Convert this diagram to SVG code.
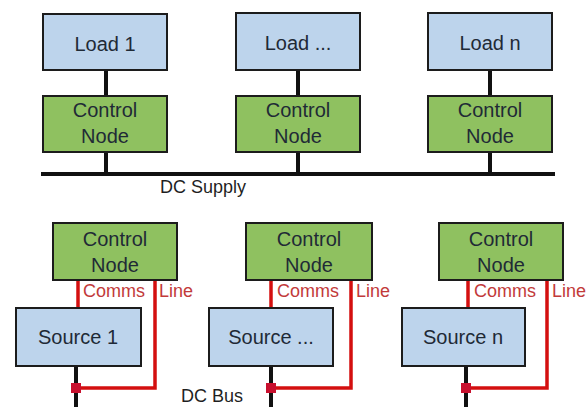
<svg xmlns="http://www.w3.org/2000/svg" width="586" height="407" viewBox="0 0 586 407">
  <style>
    .load { fill: #bdd4ec; stroke: #1c1c1c; stroke-width: 2; }
    .ctrl { fill: #8fc160; stroke: #1c1c1c; stroke-width: 2; }
    .lbl { font-family: "Liberation Sans", Arial, sans-serif; font-size: 20px; fill: #1f2a36; text-anchor: middle; }
    .bus { font-family: "Liberation Sans", Arial, sans-serif; font-size: 18px; fill: #1f1f1f; }
    .comms { font-family: "Liberation Sans", Arial, sans-serif; font-size: 18px; fill: #c23a3a; }
    .wire { stroke: #111; stroke-width: 4; fill: none; }
    .red { stroke: #d40f0f; stroke-width: 3.5; fill: none; }
    .junction { fill: #c8102e; }
  </style>
  <rect width="586" height="407" fill="#ffffff"/>

  <!-- power and communication wiring -->
  <g id="connectors">
    <!-- DC supply rail and load drops -->
    <line class="wire" x1="41" y1="174" x2="555" y2="174"/>
    <line class="wire" x1="106" y1="70" x2="106" y2="96"/>
    <line class="wire" x1="106" y1="152" x2="106" y2="174"/>
    <line class="wire" x1="298" y1="70" x2="298" y2="96"/>
    <line class="wire" x1="298" y1="152" x2="298" y2="174"/>
    <line class="wire" x1="490" y1="70" x2="490" y2="96"/>
    <line class="wire" x1="490" y1="152" x2="490" y2="174"/>

    <!-- source drops to DC bus -->
    <line class="wire" x1="76" y1="366" x2="76" y2="407"/>
    <line class="wire" x1="271" y1="366" x2="271" y2="407"/>
    <line class="wire" x1="466" y1="366" x2="466" y2="407"/>

    <!-- comms lines -->
    <line class="red" x1="78" y1="280" x2="78" y2="308"/>
    <polyline class="red" points="155,280 155,388 76,388"/>
    <line class="red" x1="271" y1="280" x2="271" y2="308"/>
    <polyline class="red" points="351,280 351,388 271,388"/>
    <line class="red" x1="468" y1="280" x2="468" y2="308"/>
    <polyline class="red" points="547,280 547,388 466,388"/>

    <rect class="junction" x="71" y="383" width="10" height="10"/>
    <rect class="junction" x="266" y="383" width="10" height="10"/>
    <rect class="junction" x="461" y="383" width="10" height="10"/>
  </g>

  <!-- loads -->
  <g id="load-1"><rect class="load" x="43" y="14" width="124" height="56"/><text class="lbl" x="105" y="51">Load 1</text></g>
  <g id="load-mid"><rect class="load" x="236" y="13" width="124" height="57"/><text class="lbl" x="298" y="50">Load ...</text></g>
  <g id="load-n"><rect class="load" x="428" y="13" width="124" height="57"/><text class="lbl" x="490" y="50">Load n</text></g>

  <!-- load control nodes -->
  <g id="load-ctrl-1"><rect class="ctrl" x="43" y="96" width="124" height="56"/><text class="lbl" x="105" y="117">Control</text><text class="lbl" x="105" y="143">Node</text></g>
  <g id="load-ctrl-mid"><rect class="ctrl" x="236" y="96" width="124" height="56"/><text class="lbl" x="298" y="117">Control</text><text class="lbl" x="298" y="143">Node</text></g>
  <g id="load-ctrl-n"><rect class="ctrl" x="428" y="96" width="124" height="56"/><text class="lbl" x="490" y="117">Control</text><text class="lbl" x="490" y="143">Node</text></g>

  <!-- source control nodes -->
  <g id="src-ctrl-1"><rect class="ctrl" x="53" y="223" width="124" height="57"/><text class="lbl" x="115" y="246">Control</text><text class="lbl" x="115" y="272">Node</text></g>
  <g id="src-ctrl-mid"><rect class="ctrl" x="246" y="223" width="126" height="57"/><text class="lbl" x="309" y="246">Control</text><text class="lbl" x="309" y="272">Node</text></g>
  <g id="src-ctrl-n"><rect class="ctrl" x="439" y="223" width="124" height="57"/><text class="lbl" x="501" y="246">Control</text><text class="lbl" x="501" y="272">Node</text></g>

  <!-- sources -->
  <g id="source-1"><rect class="load" x="16" y="308" width="125" height="58"/><text class="lbl" x="78" y="344">Source 1</text></g>
  <g id="source-mid"><rect class="load" x="209" y="308" width="124" height="58"/><text class="lbl" x="271" y="344">Source ...</text></g>
  <g id="source-n"><rect class="load" x="402" y="308" width="123" height="58"/><text class="lbl" x="463" y="344">Source n</text></g>

  <!-- labels -->
  <text class="bus" x="160" y="193">DC Supply</text>
  <text class="bus" x="181" y="402">DC Bus</text>
  <text class="comms" y="297"><tspan x="83">Comms</tspan> <tspan x="159">Line</tspan></text>
  <text class="comms" y="297"><tspan x="277">Comms</tspan> <tspan x="356">Line</tspan></text>
  <text class="comms" y="297"><tspan x="474">Comms</tspan> <tspan x="552">Line</tspan></text>
</svg>
